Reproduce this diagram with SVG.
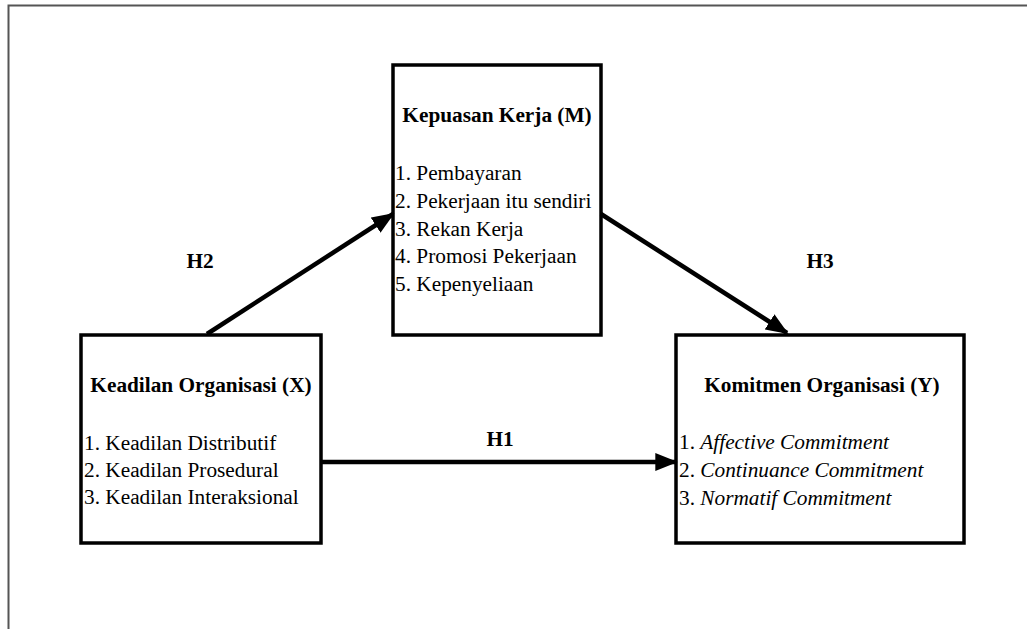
<svg xmlns="http://www.w3.org/2000/svg" width="1027" height="629" viewBox="0 0 1027 629">
<style>
  text { font-family: "Liberation Serif", "Times New Roman", serif; font-size: 21.3px; fill: #000; }
  .title { font-weight: bold; text-anchor: middle; }
  .lbl { font-weight: bold; text-anchor: middle; }
  .box { fill: #fff; stroke: #000; stroke-width: 3.5; }
  .conn { stroke: #000; stroke-width: 4.5; fill: none; marker-end: url(#ah); }
  .frame { stroke: #555; stroke-width: 2; fill: none; }
</style>
<defs>
  <marker id="ah" markerWidth="5" markerHeight="4" refX="4.6" refY="2" orient="auto" markerUnits="strokeWidth">
    <path d="M0,0 L5,2 L0,4 Z" fill="#000"/>
  </marker>
</defs>
<rect width="1027" height="629" fill="#fff"/>
<path class="frame" d="M8.5,629 V5.5 H1027"/>

<g id="node-m">
  <rect class="box" x="393" y="65" width="208" height="270"/>
  <text class="title" x="497" y="122">Kepuasan Kerja (M)</text>
  <text x="395" y="180">1. Pembayaran</text>
  <text x="395" y="208">2. Pekerjaan itu sendiri</text>
  <text x="395" y="235.5">3. Rekan Kerja</text>
  <text x="395" y="263">4. Promosi Pekerjaan</text>
  <text x="395" y="290.5">5. Kepenyeliaan</text>
</g>

<g id="node-x">
  <rect class="box" x="81" y="335" width="240" height="208"/>
  <text class="title" x="201" y="392">Keadilan Organisasi (X)</text>
  <text x="84" y="450">1. Keadilan Distributif</text>
  <text x="84" y="477">2. Keadilan Prosedural</text>
  <text x="84" y="504">3. Keadilan Interaksional</text>
</g>

<g id="node-y">
  <rect class="box" x="676" y="335" width="288" height="208"/>
  <text class="title" x="822" y="392">Komitmen Organisasi (Y)</text>
  <text x="679" y="449">1. <tspan font-style="italic">Affective Commitment</tspan></text>
  <text x="679" y="477">2. <tspan font-style="italic">Continuance Commitment</tspan></text>
  <text x="679" y="505">3. <tspan font-style="italic">Normatif Commitment</tspan></text>
</g>

<g id="connectors">
  <line class="conn" x1="207" y1="334" x2="393" y2="214"/>
  <line class="conn" x1="601" y1="214" x2="787" y2="333"/>
  <line class="conn" x1="322" y1="462" x2="676" y2="462"/>
  <text class="lbl" x="200" y="268">H2</text>
  <text class="lbl" x="820" y="268">H3</text>
  <text class="lbl" x="500" y="446">H1</text>
</g>
</svg>
